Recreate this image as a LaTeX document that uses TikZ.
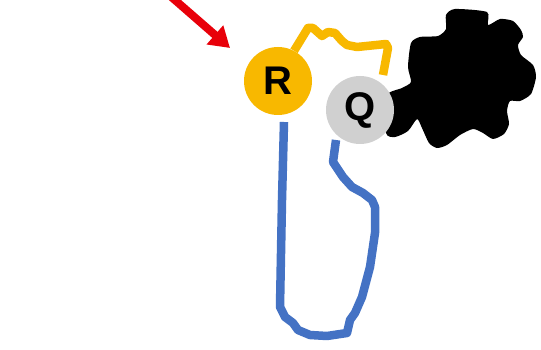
\documentclass[tikz,border=0pt]{standalone}
\usepackage{fontspec}
\setmainfont{Liberation Sans}
\usetikzlibrary{arrows.meta}
\definecolor{ryellow}{RGB}{248,184,0}
\definecolor{qgray}{RGB}{208,208,208}
\definecolor{lblue}{RGB}{68,114,196}
\definecolor{ared}{RGB}{232,0,10}
\begin{document}
\begin{tikzpicture}[x=1pt,y=-1pt,
  ball/.style={circle,minimum size=68pt,inner sep=0pt,font=\fontsize{40}{40}\selectfont\bfseries},
  blueline/.style={draw=lblue,line width=8.5pt,line join=round},
  zigline/.style={draw=ryellow,line width=8.5pt,line join=round},
  redarrow/.style={draw=ared,line width=8pt,-{Triangle[length=20pt,width=24pt]}}]
\clip (0,0) rectangle (541,350);
\fill[white] (0,0) rectangle (541,350);
% black blob
\fill[black] plot[smooth cycle, tension=0.4] coordinates {(455,9) (487,12) (488,25) (500,19) (513,21) (521,30) (523,37) (518,45) (521,55) (533,65) (536,77) (531,94) (520,101) (510,101) (507,111) (509,124) (504,134) (493,139) (483,133) (473,129) (460,135) (447,145) (437,148) (429,143) (422,128) (417,119) (408,131) (395,137) (386,133) (386,96) (402,88) (411,82) (408,67) (411,43) (420,37) (438,36) (446,29) (446,15)};
% nodes
\node[ball,fill=ryellow] (R) at (278,81) {R};
\node[ball,fill=qgray] (Q) at (360,110) {Q};
% coordinates
\coordinate (rb) at (284,122);
\coordinate (qb) at (336,140);
\coordinate (zend) at (383,75);
\coordinate (astart) at (168,-6);
\coordinate (atip) at (230,48);
% blue loop from R to Q
\draw[blueline] (rb) -- (282,200) -- (280,307) -- (285,317) -- (293,323) -- (298,330) -- (310,335) -- (327,336) -- (347,333) -- (350,320) -- (355,313) -- (362,297) -- (370,267) -- (375,233) -- (375,207) -- (372,200) -- (363,193) -- (352,187) -- (343,177) -- (333,162) -- (qb);
% yellow zigzag
\draw[zigline] (R.62) -- (308,28) -- (313,28) -- (322,36) -- (328,32) -- (335,33) -- (342,41) -- (347,45) -- (357,47) -- (386,44) -- (388,48) -- (zend);
% red arrow
\draw[redarrow] (astart) -- (atip);
\end{tikzpicture}
\end{document}
